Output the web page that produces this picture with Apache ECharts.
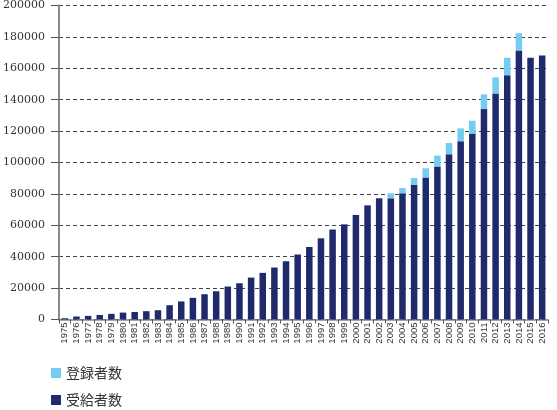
<!DOCTYPE html>
<html>
<head>
<meta charset="utf-8">
<script src="https://cdn.jsdelivr.net/npm/echarts@6/dist/echarts.min.js"></script>
<style>html,body{margin:0;padding:0;background:#fff;}#c{width:557px;height:410px;}</style>
</head>
<body>
<div id="c"></div>
<script>
var years = ['1975','1976','1977','1978','1979','1980','1981','1982','1983','1984','1985','1986','1987','1988','1989','1990','1991','1992','1993','1994','1995','1996','1997','1998','1999','2000','2001','2002','2003','2004','2005','2006','2007','2008','2009','2010','2011','2012','2013','2014','2015','2016'];
var recipients = [800,1900,2300,2900,3600,4400,4800,5300,5900,9100,11500,13800,16100,18000,21000,23100,26700,29700,33100,37100,41400,46200,51700,57300,60600,66600,72700,77200,77200,80400,85800,90500,97500,105200,113500,118400,134000,144000,155600,171400,166700,168200];
var registrants = [null,null,null,null,null,null,null,null,null,null,null,null,null,null,null,null,null,null,null,null,null,null,null,null,null,null,null,null,3200,3300,4300,5800,6900,7200,8200,8200,9400,10200,11100,11000,null,null];
var yTicks = {min:0, max:200000, interval:20000};
var seriesNames = ['受給者数','登録者数'];

var legendText = {fontSize:14, color:'#333', fontFamily:'Noto Sans CJK JP'};
var chart = echarts.init(document.getElementById('c'), null, {renderer:'canvas'});
chart.setOption({
  animation:false,
  backgroundColor:'#fff',
  grid:{left:57, right:9, top:5, bottom:90.5, containLabel:false},
  legend:[
    {left:46, top:361, data:[seriesNames[1]], icon:'rect', itemWidth:10, itemHeight:10, itemGap:5, textStyle:legendText},
    {left:46, top:388, data:[seriesNames[0]], icon:'rect', itemWidth:10, itemHeight:10, itemGap:5, textStyle:legendText}
  ],
  xAxis:{
    type:'category', data:years,
    axisLine:{lineStyle:{color:'#888', width:1.5}},
    axisTick:{show:true, length:4, lineStyle:{color:'#555'}},
    axisLabel:{rotate:90, fontSize:9.5, color:'#333', margin:3, interval:0, fontFamily:'Liberation Sans'}
  },
  yAxis:{
    type:'value', min:yTicks.min, max:yTicks.max, interval:yTicks.interval,
    axisLine:{show:true, lineStyle:{color:'#888', width:2}},
    axisTick:{show:true, length:8, lineStyle:{color:'#555'}},
    axisLabel:{fontSize:11, color:'#333', margin:14, fontFamily:'DejaVu Serif', formatter:function(v){return String(v);}},
    splitLine:{show:true, lineStyle:{color:'#444', type:[4,3], width:1}}
  },
  series:[
    {name:seriesNames[0], type:'bar', stack:'a', data:recipients, barWidth:6.5,
     itemStyle:{color:'#1e2a6c'}},
    {name:seriesNames[1], type:'bar', stack:'a', data:registrants, barWidth:6.5,
     itemStyle:{color:'#74cdf1'}}
  ]
});
</script>
</body>
</html>
